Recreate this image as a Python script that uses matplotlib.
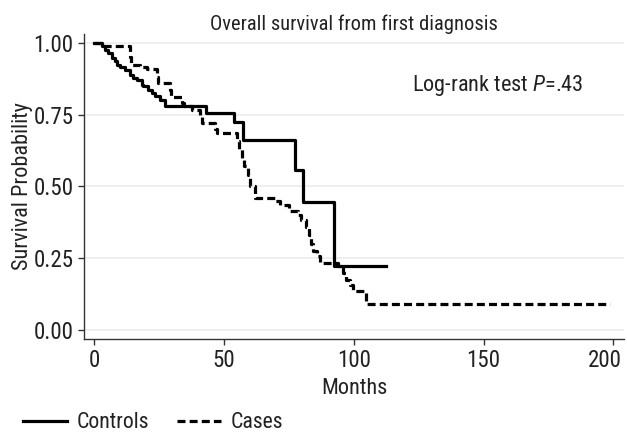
import matplotlib
matplotlib.use("Agg")
import matplotlib.pyplot as plt
from matplotlib import font_manager
from matplotlib.transforms import ScaledTranslation

# Kaplan-Meier step data
control_months = [0, 2.9, 4.2, 5.5, 6.8, 8.1, 8.7, 10.0, 11.9, 13.8,
                  15.1, 16.4, 18.3, 19.0, 20.9, 22.2, 23.5, 25.4, 27.3, 43.3,
                  53.8, 57.2, 77.2, 80.6, 92.3, 112.6]
control_surv = [1.0, 0.988, 0.977, 0.965, 0.948, 0.936, 0.924, 0.916, 0.907, 0.889,
                0.878, 0.870, 0.855, 0.849, 0.837, 0.826, 0.814, 0.802, 0.781, 0.756,
                0.724, 0.663, 0.556, 0.444, 0.222, 0.222]

case_months = [0, 3.5, 13.8, 14.3, 17.7, 20.5, 24.1, 24.6, 29.2, 29.8,
               33.7, 34.5, 37.6, 40.8, 41.6, 46.5, 47.5, 54.9, 55.8, 56.8,
               57.8, 59.2, 60.2, 61.9, 69.6, 71.5, 75.0, 78.5, 79.6, 81.8,
               82.6, 83.4, 84.2, 85.8, 87.0, 93.8, 95.8, 97.2, 98.5, 99.7,
               104.9, 198.5]
case_surv = [1.0, 0.988, 0.95, 0.924, 0.916, 0.909, 0.88, 0.86, 0.835, 0.812,
             0.79, 0.779, 0.767, 0.745, 0.721, 0.70, 0.686, 0.66, 0.63, 0.60,
             0.57, 0.54, 0.50, 0.459, 0.449, 0.436, 0.413, 0.401, 0.384, 0.36,
             0.33, 0.30, 0.273, 0.256, 0.233, 0.221, 0.199, 0.174, 0.155, 0.134,
             0.09, 0.09]

x_ticks = [0, 50, 100, 150, 200]
y_ticks = [0.0, 0.25, 0.5, 0.75, 1.0]
y_tick_labels = ["0.00", "0.25", "0.50", "0.75", "1.00"]


def pick_font():
    """Prefer a narrow sans; fall back to Liberation Sans"""
    entries = font_manager.fontManager.ttflist
    names = {f.name for f in entries}
    for name in ["Liberation Sans Narrow", "Roboto Condensed", "Open Sans Condensed"]:
        if name in names:
            return name, "normal", 1.0
    for f in entries:
        if f.name == "DejaVu Sans" and "condensed" in str(f.stretch):
            return "DejaVu Sans", "condensed", 0.92
    return "Liberation Sans", "normal", 0.97


FONT, STRETCH, SCALE = pick_font()
plt.rcParams["font.family"] = [FONT, "DejaVu Sans"]
plt.rcParams["font.stretch"] = STRETCH
plt.rcParams["mathtext.fontset"] = "custom"
plt.rcParams["mathtext.rm"] = FONT
plt.rcParams["mathtext.it"] = FONT + ":italic"

FS_TICK = 16.6 * SCALE
FS_LABEL = 16.0 * SCALE
TEXT = "#222222"
AXIS = "#333333"

fig = plt.figure(figsize=(6.27, 4.34), dpi=100)
ax = fig.add_axes([0.134, 0.219, 0.861, 0.703])

ax.step(control_months, control_surv, where="post", color="black", lw=2.3,
        label="Controls")
ax.step(case_months, case_surv, where="post", color="black", lw=2.3,
        linestyle=(0, (2.5, 1.3)), label="Cases")

ax.set_xlim(-3.85, 204)
ax.set_ylim(-0.032, 1.032)
ax.set_xticks(x_ticks)
ax.set_yticks(y_ticks)
ax.set_yticklabels(y_tick_labels)

ax.grid(axis="y", color="#ebebeb", lw=1.1)
ax.set_axisbelow(True)
for side in ["top", "right"]:
    ax.spines[side].set_visible(False)
for side in ["left", "bottom"]:
    ax.spines[side].set_color(AXIS)
    ax.spines[side].set_linewidth(1.0)
ax.tick_params(colors=AXIS, labelcolor=TEXT, labelsize=FS_TICK, length=4,
               width=1)

# the last x label sits a little inside the figure edge, as in the original
last = ax.xaxis.get_major_ticks()[-1].label1
last.set_transform(last.get_transform()
                   + ScaledTranslation(-6 / 72, 0, fig.dpi_scale_trans))

ax.set_xlabel("Months", fontsize=FS_LABEL, color=TEXT, labelpad=4)
ax.set_ylabel("Survival Probability", fontsize=FS_LABEL, color=TEXT,
              labelpad=0.5)
ax.set_title("Overall survival from first diagnosis", fontsize=14.8 * SCALE,
             color=TEXT, pad=0.5)

ax.text(122.5, 0.852, "Log-rank test $P$=.43", fontsize=FS_LABEL, color=TEXT,
        va="center", ha="left")

fig.legend(loc="center left", bbox_to_anchor=(0.037, 0.026), ncol=2,
           frameon=False, fontsize=15.7 * SCALE, handlelength=2.0,
           columnspacing=1.3, handletextpad=0.45, borderpad=0,
           borderaxespad=0, labelcolor=TEXT)

fig.savefig("out.png", dpi=100, facecolor="white")
